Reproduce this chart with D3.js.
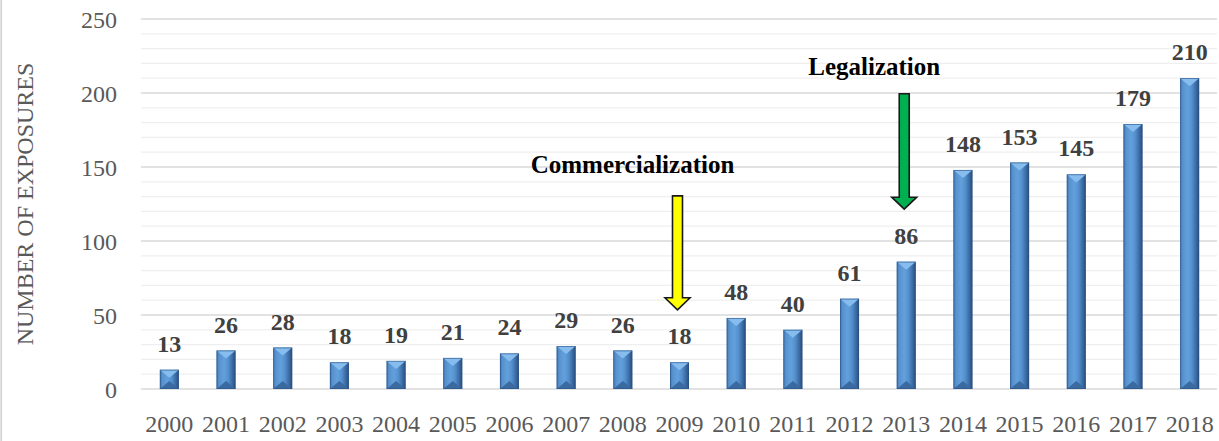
<!DOCTYPE html>
<html>
<head>
<meta charset="utf-8">
<script src="https://cdn.jsdelivr.net/npm/d3@7"></script>
<style>
  html, body { margin: 0; padding: 0; background: #fff; }
  svg { display: block; }
</style>
</head>
<body>
<svg id="chart" width="1219" height="441"></svg>
<script>
// Annual exposures, 2000–2018
const years = ["2000","2001","2002","2003","2004","2005","2006","2007","2008","2009",
               "2010","2011","2012","2013","2014","2015","2016","2017","2018"];
const exposures = [13, 26, 28, 18, 19, 21, 24, 29, 26, 18, 48, 40, 61, 86, 148, 153, 145, 179, 210];
const yTicks = [0, 50, 100, 150, 200, 250];
const yTitle = "NUMBER OF EXPOSURES";

// Event markers: label, year the arrow points at, arrow top/tip in axis units
const eventLabels = ["Commercialization", "Legalization"];
const eventYears = ["2009", "2013"];
const eventColors = ["#ffff00", "#00b050"];
const eventArrowTop = [130.5, 199.5];
const eventArrowTip = [53.5, 121.5];
const eventLabelValue = [146, 212];
const eventLabelShift = [-45, -30];

const W = 1219, H = 441;
const svg = d3.select("#chart");

svg.append("rect").attr("width", W).attr("height", H).attr("fill", "#fff");
// chart frame edge on the left
svg.append("line").attr("x1", 1.2).attr("x2", 1.2).attr("y1", 0).attr("y2", H)
  .attr("stroke", "#d4d4d4").attr("stroke-width", 1.8);

const x = d3.scaleBand().domain(years).range([141, 1218])
  .paddingInner(0.665).paddingOuter(0.3325);
const y = d3.scaleLinear().domain([0, 250]).range([389, 19]);

const serif = "'Liberation Serif', 'Times New Roman', serif";

// gridlines: minor every 10, major every 50
const minor = d3.range(10, 250, 10).filter(v => v % 50 !== 0);
svg.append("g").selectAll("line").data(minor).join("line")
  .attr("x1", 141).attr("x2", 1217)
  .attr("y1", d => y(d)).attr("y2", d => y(d))
  .attr("stroke", "#efefef").attr("stroke-width", 1.3);
svg.append("g").selectAll("line").data(yTicks).join("line")
  .attr("x1", 141).attr("x2", 1217)
  .attr("y1", d => y(d)).attr("y2", d => y(d))
  .attr("stroke", "#d9d9d9").attr("stroke-width", 1.4);

// y axis labels
const yAxis = svg.append("g").attr("transform", "translate(117,0)")
  .call(d3.axisLeft(y).tickValues(yTicks).tickSize(0).tickPadding(0));
yAxis.select(".domain").remove();
yAxis.selectAll("text")
  .attr("font-family", serif).attr("font-size", 24).attr("fill", "#595959")
  .attr("dy", "0.34em");

// x axis labels
const xAxis = svg.append("g").attr("transform", "translate(0,432)")
  .call(d3.axisBottom(x).tickSize(0).tickPadding(0));
xAxis.select(".domain").remove();
xAxis.selectAll("text")
  .attr("font-family", serif).attr("font-size", 24).attr("fill", "#595959")
  .attr("y", 0).attr("dy", 0);

// y axis title
svg.append("text")
  .attr("transform", "translate(33,204) rotate(-90)")
  .attr("text-anchor", "middle")
  .attr("font-family", serif).attr("font-size", 24).attr("fill", "#595959")
  .text(yTitle);

// bevelled bar shading
const defs = svg.append("defs");
const grad = defs.append("linearGradient").attr("id", "barBody")
  .attr("x1", "0%").attr("x2", "100%").attr("y1", "0%").attr("y2", "0%");
[["0%", "#3f74b0"], ["14%", "#5892cf"], ["40%", "#62a0dc"], ["62%", "#5490cd"],
 ["85%", "#3a68a0"], ["100%", "#284c7a"]]
  .forEach(([o, c]) => grad.append("stop").attr("offset", o).attr("stop-color", c));

const rows = years.map((yr, i) => ({ year: yr, value: exposures[i] }));
const bars = svg.append("g").selectAll("g").data(rows).join("g");
const bw = x.bandwidth();

bars.append("rect")
  .attr("x", d => x(d.year)).attr("y", d => y(d.value))
  .attr("width", bw).attr("height", d => y(0) - y(d.value))
  .attr("fill", "url(#barBody)");

bars.append("polygon") // top bevel
  .attr("points", d => {
    const x0 = x(d.year), x1 = x0 + bw, t = y(d.value);
    const b = Math.min(8, (y(0) - t) / 2);
    return `${x0},${t} ${x1},${t} ${x0 + bw / 2},${t + b}`;
  })
  .attr("fill", "#86bdee");

bars.append("polygon") // bottom bevel
  .attr("points", d => {
    const x0 = x(d.year), x1 = x0 + bw, t = y(d.value), b0 = y(0);
    const b = Math.min(8, (b0 - t) / 2);
    return `${x0},${b0} ${x1},${b0} ${x0 + bw / 2},${b0 - b}`;
  })
  .attr("fill", "#3a6aa0");

bars.append("rect") // thin dark edge
  .attr("x", d => x(d.year) + 0.4).attr("y", d => y(d.value) + 0.4)
  .attr("width", bw - 0.8).attr("height", d => y(0) - y(d.value) - 0.8)
  .attr("fill", "none").attr("stroke", "#2a5486").attr("stroke-width", 0.8)
  .attr("stroke-opacity", 0.75);

// value labels
svg.append("g").selectAll("text").data(rows).join("text")
  .attr("x", d => x(d.year) + bw / 2).attr("y", d => y(d.value) - 18)
  .attr("text-anchor", "middle")
  .attr("font-family", serif).attr("font-size", 24).attr("font-weight", "bold")
  .attr("fill", "#404040")
  .text(d => d.value);

// event arrows and labels
eventLabels.forEach((label, i) => {
  const cx = x(eventYears[i]) + bw / 2 - 2;
  const top = y(eventArrowTop[i]), tip = y(eventArrowTip[i]);
  const sw = 5, hw = 12.5, hh = 12;
  const pts = [
    [cx - sw, top], [cx + sw, top], [cx + sw, tip - hh], [cx + hw, tip - hh],
    [cx, tip], [cx - hw, tip - hh], [cx - sw, tip - hh]
  ];
  svg.append("polygon")
    .attr("points", pts.map(p => p.join(",")).join(" "))
    .attr("fill", eventColors[i]).attr("stroke", "#1a1a1a").attr("stroke-width", 1.6)
    .attr("stroke-linejoin", "miter");
  svg.append("text")
    .attr("x", cx + eventLabelShift[i]).attr("y", y(eventLabelValue[i]))
    .attr("text-anchor", "middle")
    .attr("font-family", serif).attr("font-size", 25).attr("font-weight", "bold")
    .attr("fill", "#000")
    .text(label);
});
</script>
</body>
</html>
